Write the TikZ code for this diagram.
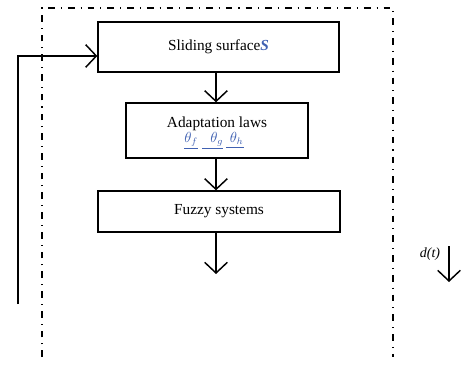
\documentclass[tikz,border=0pt]{standalone}
\usepackage{fontspec}
\setmainfont{Liberation Serif}
\usetikzlibrary{arrows.meta,calc}
\definecolor{symcol}{rgb}{0.25,0.38,0.70}
\begin{document}
\begin{tikzpicture}[x=0.75pt,y=-0.75pt,
  box/.style={draw,line width=1pt,inner sep=0pt,font=\fontsize{11.5}{13}\selectfont},
  arr/.style={line width=1.1pt,-{Straight Barb[length=8pt,width=17pt,line width=1.1pt]}},
  frame/.style={line width=0.9pt,dash pattern=on 5pt off 4.5pt on 0.8pt off 4.5pt}]
\useasboundingbox (0,0) rectangle (466,377);
\draw[frame] (42,357) -- (42,8) -- (393,8) -- (393,357);
\node[box,minimum width=180.75pt,minimum height=37.5pt] (b1) at (218.5,47)
  {Sliding surface\textcolor{symcol}{\textbf{\textit{S}}}};
\node[box,minimum width=136.5pt,minimum height=41.25pt] (b2) at (217,130.5) {};
\node[font=\fontsize{11.5}{13}\selectfont,inner sep=0pt] (t2) at (217,124) {Adaptation laws};
\node[font=\fontsize{10.5}{12}\selectfont,text=symcol,inner sep=0pt] (th) at (214,141)
  {$\underline{\theta_f}\;\underline{\;\;\theta_g}\,\underline{\;\theta_h}$};
\node[box,minimum width=181.5pt,minimum height=30.75pt] (b3) at (219,211.5) {Fuzzy systems};
\coordinate (out) at (216,274);
\coordinate (fb) at (18,304);
\draw[arr] (b1.south -| 216,0) -- (b2.north -| 216,0);
\draw[arr] (b2.south -| 216,0) -- (b3.north -| 216,0);
\draw[arr] (b3.south -| 216,0) -- (out);
\draw[arr] (fb) |- (b1.west |- 0,56);
\node[font=\itshape\fontsize{10.5}{12}\selectfont,inner sep=0pt] (dt) at (430,254) {d(t)};
\coordinate (d1) at (449,246);
\coordinate (d2) at (449,282);
\draw[arr] (d1) -- (d2);
\end{tikzpicture}
\end{document}
